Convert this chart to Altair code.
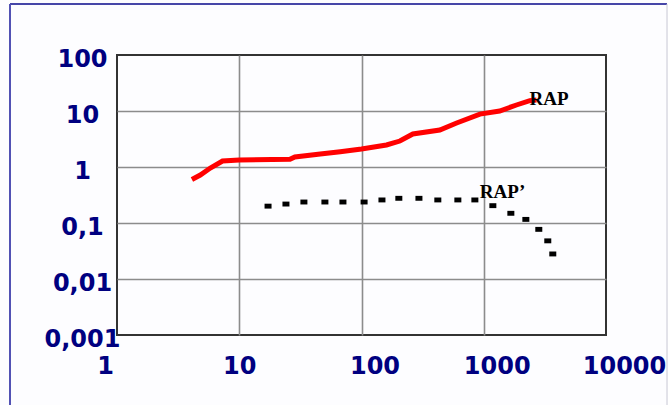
import altair as alt
import pandas as pd

# RAP series (red line)
rap_x = [4.1, 4.8, 5.8, 7.3, 10, 26, 28.5, 46, 67, 100, 160, 206, 263, 437, 600, 930, 1350, 1850, 2380, 2700]
rap_y = [0.60, 0.72, 0.96, 1.28, 1.33, 1.37, 1.51, 1.71, 1.88, 2.10, 2.47, 2.91, 3.88, 4.58, 6.1, 8.8, 10.0, 12.8, 15.3, 15.7]

# RAP' series (black dotted)
rapp_x = [17.2, 24.1, 33.8, 50.2, 70.5, 105, 147, 202, 295, 421, 614, 846, 1187, 1666, 2210, 2820, 3340, 3670]
rapp_y = [0.200, 0.218, 0.237, 0.237, 0.237, 0.237, 0.258, 0.276, 0.276, 0.258, 0.258, 0.258, 0.204, 0.149, 0.116, 0.077, 0.048, 0.028]

x_ticks = [1, 10, 100, 1000, 10000]
x_labels = ["1", "10", "100", "1000", "10000"]
y_ticks = [0.001, 0.01, 0.1, 1, 10, 100]
y_labels = ["0,001", "0,01", "0,1", "1", "10", "100"]

series_names = ["RAP", "RAP\u2019"]


def label_expr(vals, labels):
    expr = "''"
    for v, l in reversed(list(zip(vals, labels))):
        expr = f"abs(datum.value - {v}) < {v * 1e-3} ? '{l}' : ({expr})"
    return expr


rap_df = pd.DataFrame({"x": rap_x, "y": rap_y})
rapp_df = pd.DataFrame({"x": rapp_x, "y": rapp_y})

W, H = 489, 280
PL, PT, PR, PB = 117, 55, 62, 70
NAVY = "#000080"

edge_x = "datum.value < 2 || datum.value > 5000"
edge_y = "datum.value < 0.002 || datum.value > 50"

xscale = alt.Scale(type="log", domain=[1, 10000], nice=False)
yscale = alt.Scale(type="log", domain=[0.001, 100], nice=False)

x_axis = alt.Axis(
    values=x_ticks, labelExpr=label_expr(x_ticks, x_labels), title=None,
    grid=True, ticks=False, domain=False, labelFlush=False, labelOverlap=False,
    labelBound=False, labelFont="DejaVu Sans", labelFontSize=24, labelFontWeight="bold",
    labelColor=NAVY, labelBaseline="middle", labelPadding=31,
    labelOffset={"condition": [
        {"test": "datum.value < 2", "value": -12},
        {"test": "datum.value > 50 && datum.value < 5000", "value": 13},
        {"test": "datum.value > 5000", "value": 18}], "value": 0},
    gridColor="#8c8c8c", gridWidth=1.6,
    gridOpacity={"condition": {"test": edge_x, "value": 0}, "value": 1},
)
y_axis = alt.Axis(
    values=y_ticks, labelExpr=label_expr(y_ticks, y_labels), title=None,
    grid=True, ticks=False, domain=False, labelFlush=False, labelOverlap=False,
    labelBound=False, labelFont="DejaVu Sans", labelFontSize=24, labelFontWeight="bold",
    labelColor=NAVY, labelAlign="center", labelBaseline="middle", labelPadding=35,
    labelOffset=4, gridColor="#8c8c8c", gridWidth=1.6,
    gridOpacity={"condition": {"test": edge_y, "value": 0}, "value": 1},
)

rap_line = alt.Chart(rap_df).mark_line(color="#ff0000", strokeWidth=5, strokeCap="butt").encode(
    x=alt.X("x:Q", scale=xscale, axis=x_axis),
    y=alt.Y("y:Q", scale=yscale, axis=y_axis),
)

rapp_pts = alt.Chart(rapp_df).mark_point(
    shape="M-1,-0.7L1,-0.7L1,0.7L-1,0.7Z", filled=True, color="black", size=49, opacity=1
).encode(x=alt.X("x:Q", scale=xscale), y=alt.Y("y:Q", scale=yscale))

rap_lbl = alt.Chart(pd.DataFrame({"x": [rap_x[-1]], "y": [rap_y[-1]], "t": [series_names[0]]})).mark_text(
    font="Liberation Serif", fontWeight="bold", fontSize=19, color="black",
    align="left", baseline="alphabetic", dx=-7, dy=5
).encode(x=alt.X("x:Q", scale=xscale), y=alt.Y("y:Q", scale=yscale), text="t:N")

rapp_lbl = alt.Chart(pd.DataFrame({"x": [rapp_x[11]], "y": [rapp_y[11]], "t": [series_names[1]]})).mark_text(
    font="Liberation Serif", fontWeight="bold", fontSize=19, color="black",
    align="left", baseline="alphabetic", dx=5, dy=-2
).encode(x=alt.X("x:Q", scale=xscale), y=alt.Y("y:Q", scale=yscale), text="t:N")

one = pd.DataFrame({"a": [0]})
frame_top = alt.Chart(one).mark_rule(color="#4646a8", strokeWidth=2).encode(
    x=alt.value(10 - PL), x2=alt.value(667 - PL), y=alt.value(4 - PT))
frame_left = alt.Chart(one).mark_rule(color="#5252b4", strokeWidth=2).encode(
    x=alt.value(10 - PL), y=alt.value(4 - PT), y2=alt.value(405 - PT))
frame_right = alt.Chart(one).mark_rule(color="#c8c8d4", strokeWidth=1).encode(
    x=alt.value(667 - PL), y=alt.value(4 - PT), y2=alt.value(405 - PT))

chart = alt.layer(frame_top, frame_left, frame_right, rap_line, rapp_pts, rap_lbl, rapp_lbl).properties(
    width=W, height=H,
    padding={"left": PL, "top": PT, "right": PR, "bottom": PB},
    autosize=alt.AutoSizeParams(type="none"),
    background="#fdfdff",
).configure_view(stroke="#333333", strokeWidth=2, fill="#fdfdff")

chart.save("out.html", embed_options={"renderer": "svg", "actions": False})
